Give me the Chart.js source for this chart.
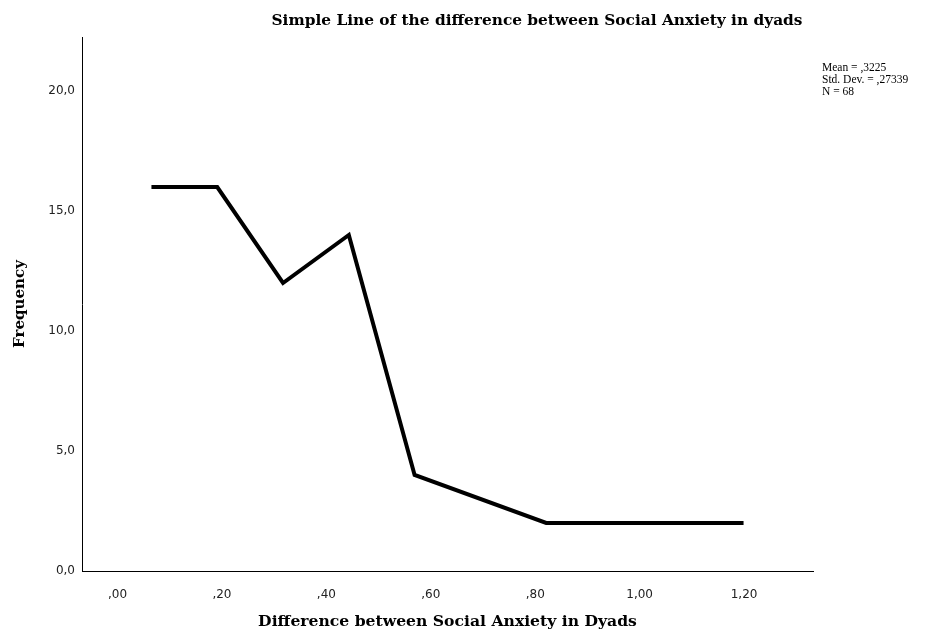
<!DOCTYPE html>
<html>
<head>
<meta charset="utf-8">
<script src="https://cdn.jsdelivr.net/npm/chart.js@4/dist/chart.umd.min.js"></script>
<style>
  html, body { margin: 0; padding: 0; background: #fff; }
  #wrap { width: 937px; height: 636px; position: relative; }
</style>
</head>
<body>
<div id="wrap"><canvas id="c" width="937" height="636"></canvas></div>
<script>
// Data
const diffValues = [0.065, 0.191, 0.317, 0.443, 0.569, 0.821, 1.199];
const frequencies = [16, 16, 12, 14, 4, 2, 2];
const xTickValues = [0, 0.2, 0.4, 0.6, 0.8, 1.0, 1.2];
const yTickValues = [0, 5, 10, 15, 20];
const chartTitle = "Simple Line of the difference between Social Anxiety in dyads";
const xAxisTitle = "Difference between Social Anxiety in Dyads";
const yAxisTitle = "Frequency";
const statsLines = ["Mean = ,3225", "Std. Dev. = ,27339", "N = 68"];

function fmtX(v) {
  let s = v.toFixed(2).replace('.', ',');
  if (s.startsWith('0,')) s = s.substring(1);
  return s;
}
function fmtY(v) {
  return v.toFixed(1).replace('.', ',');
}

const points = diffValues.map((x, i) => ({ x: x, y: frequencies[i] }));

const SERIF = '"DejaVu Serif", "Liberation Serif", serif';

function fitFont(ctx, text, targetWidth, maxSize) {
  let size = maxSize;
  ctx.font = 'bold ' + size + 'px ' + SERIF;
  const w = ctx.measureText(text).width;
  size = Math.min(maxSize, size * targetWidth / w);
  ctx.font = 'bold ' + size.toFixed(2) + 'px ' + SERIF;
}

const textPlugin = {
  id: 'textPlugin',
  afterDraw(chart) {
    const ctx = chart.ctx;
    const area = chart.chartArea;
    ctx.save();
    ctx.fillStyle = '#000';
    ctx.textBaseline = 'middle';
    ctx.textAlign = 'center';
    fitFont(ctx, chartTitle, 531, 17);
    ctx.fillText(chartTitle, 537, 21);
    // x axis title
    fitFont(ctx, xAxisTitle, 379, 18);
    ctx.fillText(xAxisTitle, (area.left + area.right) / 2, 622);
    // y axis title
    fitFont(ctx, yAxisTitle, 88, 18);
    ctx.save();
    ctx.translate(20, (area.top + area.bottom) / 2);
    ctx.rotate(-Math.PI / 2);
    ctx.fillText(yAxisTitle, 0, 0);
    ctx.restore();
    // stats box
    ctx.font = '11.5px "Liberation Serif", serif';
    ctx.textAlign = 'left';
    statsLines.forEach((t, i) => ctx.fillText(t, 822, 68 + i * 12));
    ctx.restore();
  }
};

new Chart(document.getElementById('c'), {
  type: 'line',
  data: {
    datasets: [{
      data: points,
      borderColor: '#000',
      borderWidth: 4,
      pointRadius: 0,
      tension: 0,
      fill: false,
      borderJoinStyle: 'miter',
      borderCapStyle: 'butt'
    }]
  },
  options: {
    responsive: false,
    animation: false,
    devicePixelRatio: 1,
    layout: { padding: { top: 37, right: 124, left: 0, bottom: 0 } },
    plugins: { legend: { display: false }, tooltip: { enabled: false }, title: { display: false } },
    scales: {
      x: {
        type: 'linear',
        min: -0.068,
        max: 1.332,
        afterBuildTicks(scale) { scale.ticks = xTickValues.map(v => ({ value: v })); },
        afterFit(scale) { scale.height = 65; },
        grid: { display: false, drawTicks: false },
        border: { display: true, color: '#000', width: 1 },
        ticks: {
          padding: 17,
          color: '#222',
          font: { family: '"DejaVu Sans", sans-serif', size: 12 },
          callback: (v) => fmtX(v),
          maxRotation: 0,
          autoSkip: false
        },
        title: { display: false }
      },
      y: {
        type: 'linear',
        min: 0,
        max: 22.25,
        afterBuildTicks(scale) { scale.ticks = yTickValues.map(v => ({ value: v })); },
        afterFit(scale) { scale.width = 82; },
        grid: { display: false, drawTicks: false },
        border: { display: true, color: '#000', width: 1 },
        ticks: {
          padding: 7,
          color: '#222',
          font: { family: '"DejaVu Sans", sans-serif', size: 12 },
          callback: (v) => fmtY(v),
          autoSkip: false
        },
        title: { display: false }
      }
    }
  },
  plugins: [textPlugin]
});
</script>
</body>
</html>
